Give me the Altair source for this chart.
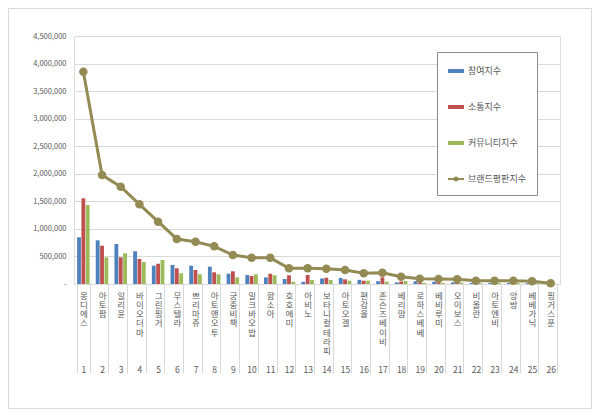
import altair as alt
import pandas as pd

brands = ["몽디에스", "아토팜", "일리윤", "바이오더마", "그린핑거", "무스텔라", "쁘리마쥬",
          "아토앤오투", "궁중비책", "밀크바오밥", "함소아", "호호에미", "아비노", "보타니컬테라피",
          "아토오겔", "편강율", "존슨즈베이비", "베리맘", "로하스베베", "베비루미", "오이보스",
          "비올란", "아토엔비", "앙방", "베베가닉", "핑거스푼"]
participation = [847000, 793000, 726000, 593000, 332000, 345000, 332000, 314000, 187000,
                 163000, 120000, 90000, 40000, 100000, 110000, 75000, 50000, 30000, 50000,
                 40000, 30000, 20000, 20000, 20000, 15000, 4000]
communication = [1555000, 695000, 484000, 454000, 368000, 285000, 254000, 212000, 230000,
                 145000, 187000, 158000, 163000, 114000, 85000, 60000, 120000, 45000, 30000,
                 30000, 30000, 25000, 20000, 20000, 20000, 5000]
community = [1433000, 484000, 557000, 399000, 435000, 194000, 176000, 176000, 120000,
             176000, 158000, 40000, 73000, 73000, 60000, 60000, 40000, 55000, 20000,
             20000, 25000, 15000, 20000, 18000, 15000, 4000]
reputation = [3852000, 1978000, 1766000, 1446000, 1131000, 817000, 768000, 684000, 526000,
              478000, 475000, 285000, 285000, 278000, 254000, 194000, 205000, 130000, 97000,
              90000, 85000, 60000, 60000, 58000, 50000, 13000]
series_names = ["참여지수", "소통지수", "커뮤니티지수", "브랜드평판지수"]
colors = ["#4F81BD", "#C0504D", "#9BBB59", "#948A54"]
y_ticks = [0, 500000, 1000000, 1500000, 2000000, 2500000, 3000000, 3500000, 4000000, 4500000]

FONT = "Noto Sans CJK KR"

# vertical label: one character per line, rank number on the 9th line
# (blank lines use U+2800, a blank glyph that the svg keeps)
labels = ["\n".join(list(b) + ["\u2800"] * (8 - len(b)) + [str(i + 1)])
          for i, b in enumerate(brands)]

bars = pd.DataFrame({
    "label": labels * 3,
    "series": [series_names[0]] * 26 + [series_names[1]] * 26 + [series_names[2]] * 26,
    "value": participation + communication + community,
})
line = pd.DataFrame({"label": labels, "series": series_names[3], "value": reputation})
keys = pd.DataFrame({"label": labels[:4], "series": series_names, "value": [0, 0, 0, 0]})

bar_path = "M-1,-0.25H1V0.25H-1Z"
line_path = ("M-1,-0.12H1V0.12H-1Z M0.32,0A0.32,0.32,0,1,1,-0.32,0"
             "A0.32,0.32,0,1,1,0.32,0Z")

x = alt.X("label:N", sort=labels, title=None,
          scale=alt.Scale(paddingInner=0.33, paddingOuter=0.165),
          axis=alt.Axis(labelExpr="split(datum.label, '\\n')", labelAngle=0,
                        labelAlign="center", labelBaseline="top", labelFontSize=8.5,
                        labelLineHeight=9.3, labelPadding=-82, labelColor="#595959",
                        labelOverlap=False, labelBound=False, labelFlush=False,
                        tickBand="extent", tickSize=89, tickColor="#d9d9d9",
                        domainColor="#d9d9d9", grid=False))
y = alt.Y("value:Q", title=None,
          scale=alt.Scale(domain=[0, 4500000], nice=False),
          axis=alt.Axis(values=y_ticks, labelFontSize=7.5, labelColor="#595959",
                        labelPadding=8, ticks=False, domain=False, gridColor="#d9d9d9",
                        labelExpr="datum.value == 0 ? '-' : format(datum.value, ',')"))
color = alt.Color("series:N", scale=alt.Scale(domain=series_names, range=colors), title=None)

legend_keys = alt.Chart(keys).mark_point(size=0, filled=True, opacity=1).encode(
    x=x, y=y, color=color,
    shape=alt.Shape("series:N", title=None,
                    scale=alt.Scale(domain=series_names,
                                    range=[bar_path, bar_path, bar_path, line_path])),
)

bar_layer = alt.Chart(bars).mark_bar().encode(
    x=x, y=y, color=color,
    xOffset=alt.XOffset("series:N", sort=series_names[:3], scale=alt.Scale(paddingInner=0.12)),
)

line_layer = alt.Chart(line).mark_line(strokeWidth=3).encode(x=x, y=y, color=color)
point_layer = alt.Chart(line).mark_circle(size=72, opacity=1).encode(x=x, y=y, color=color)

frame = alt.Chart(pd.DataFrame({"f": [0]})).mark_rect(
    fillOpacity=0, stroke="#d9d9d9", strokeWidth=1
).encode(x=alt.value(-65.5), x2=alt.value(517.5), y=alt.value(-27.5), y2=alt.value(372.5))

chart = (
    alt.layer(frame, legend_keys, bar_layer, line_layer, point_layer)
    .properties(width=486, height=248, autosize=alt.AutoSizeParams(type="none"),
                padding={"left": 66, "top": 28, "right": 32, "bottom": 125})
    .configure_view(strokeWidth=0)
    .configure(font=FONT)
    .configure_legend(orient="none", legendX=363, legendY=16, fillColor="white",
                      strokeColor="#8c8c8c", padding=11, rowPadding=23, symbolSize=256,
                      labelFontSize=9, labelColor="#595959", labelOffset=4,
                      labelFont=FONT, symbolStrokeWidth=0)
)

chart.save("out.html", embed_options={"renderer": "svg", "actions": False})
